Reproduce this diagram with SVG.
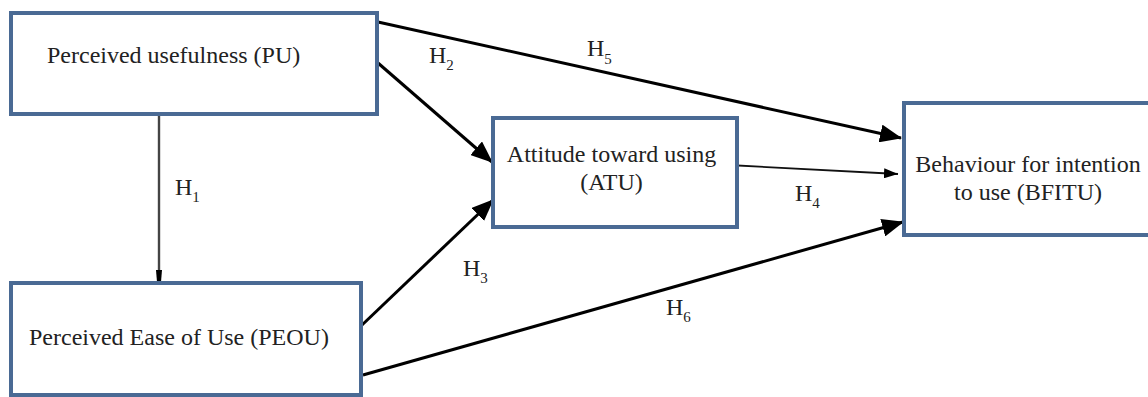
<svg xmlns="http://www.w3.org/2000/svg" width="1148" height="397" viewBox="0 0 1148 397">
<style>
.box{fill:#ffffff;stroke:#4a6a94;stroke-width:4}
.t{font-family:"Liberation Serif","Times New Roman",serif;font-size:24px;fill:#222}
.lbl{font-family:"Liberation Serif","Times New Roman",serif;font-size:24px;fill:#222}
.sub{font-size:15px}
.thick{stroke:#000;stroke-width:3;fill:none}
.thin{stroke:#111;stroke-width:1.8;fill:none}
</style>
<defs>
<marker id="big" markerUnits="userSpaceOnUse" markerWidth="22" markerHeight="18" refX="21" refY="9" orient="auto">
<path d="M0,0 L22,9 L0,18 z" fill="#000"/>
</marker>
<marker id="small" markerUnits="userSpaceOnUse" markerWidth="14" markerHeight="10" refX="14" refY="5" orient="auto">
<path d="M0,0 L14,5 L0,10 z" fill="#000"/>
</marker>
<marker id="tiny" markerUnits="userSpaceOnUse" markerWidth="12" markerHeight="7" refX="12" refY="3.5" orient="auto">
<path d="M0,0.5 L12,1.5 L12,5.5 L0,6.5 z" fill="#000"/>
</marker>
</defs>
<rect width="1148" height="397" fill="#fff"/>
<g id="connectors">
<line id="c-h1" x1="159" y1="115" x2="159" y2="282" stroke="#444" stroke-width="2.4" marker-end="url(#tiny)"/>
<line id="c-h2" class="thick" x1="378" y1="63" x2="492" y2="162" marker-end="url(#big)"/>
<line id="c-h5" class="thick" x1="378" y1="22" x2="901" y2="138" marker-end="url(#big)"/>
<line id="c-h3" class="thick" x1="362" y1="325" x2="493" y2="200" marker-end="url(#big)"/>
<line id="c-h6" class="thick" x1="363" y1="375" x2="903" y2="222" marker-end="url(#big)"/>
<line id="c-h4" class="thin" x1="728" y1="165" x2="898" y2="174" marker-end="url(#small)"/>
</g>
<g id="labels">
<text class="lbl" x="175" y="195">H<tspan class="sub" dy="7">1</tspan></text>
<text class="lbl" x="429" y="63">H<tspan class="sub" dy="7">2</tspan></text>
<text class="lbl" x="463" y="276">H<tspan class="sub" dy="7">3</tspan></text>
<text class="lbl" x="795" y="201">H<tspan class="sub" dy="7">4</tspan></text>
<text class="lbl" x="587" y="56">H<tspan class="sub" dy="8">5</tspan></text>
<text class="lbl" x="666" y="315">H<tspan class="sub" dy="7">6</tspan></text>
</g>
<g id="node-pu">
<rect class="box" x="11" y="13" width="366" height="101"/>
<text class="t" x="47" y="63">Perceived usefulness (PU)</text>
</g>
<g id="node-peou">
<rect class="box" x="11" y="283" width="350" height="112"/>
<text class="t" x="29" y="345">Perceived Ease of Use (PEOU)</text>
</g>
<g id="node-atu">
<rect class="box" x="493" y="118" width="244" height="109"/>
<text class="t" x="611.5" y="162" text-anchor="middle">Attitude toward using</text>
<text class="t" x="611.5" y="190" text-anchor="middle">(ATU)</text>
</g>
<g id="node-bfitu">
<rect class="box" x="904" y="103" width="246" height="132"/>
<text class="t" x="1028" y="172" text-anchor="middle">Behaviour for intention</text>
<text class="t" x="1028" y="200" text-anchor="middle">to use (BFITU)</text>
</g>
</svg>
